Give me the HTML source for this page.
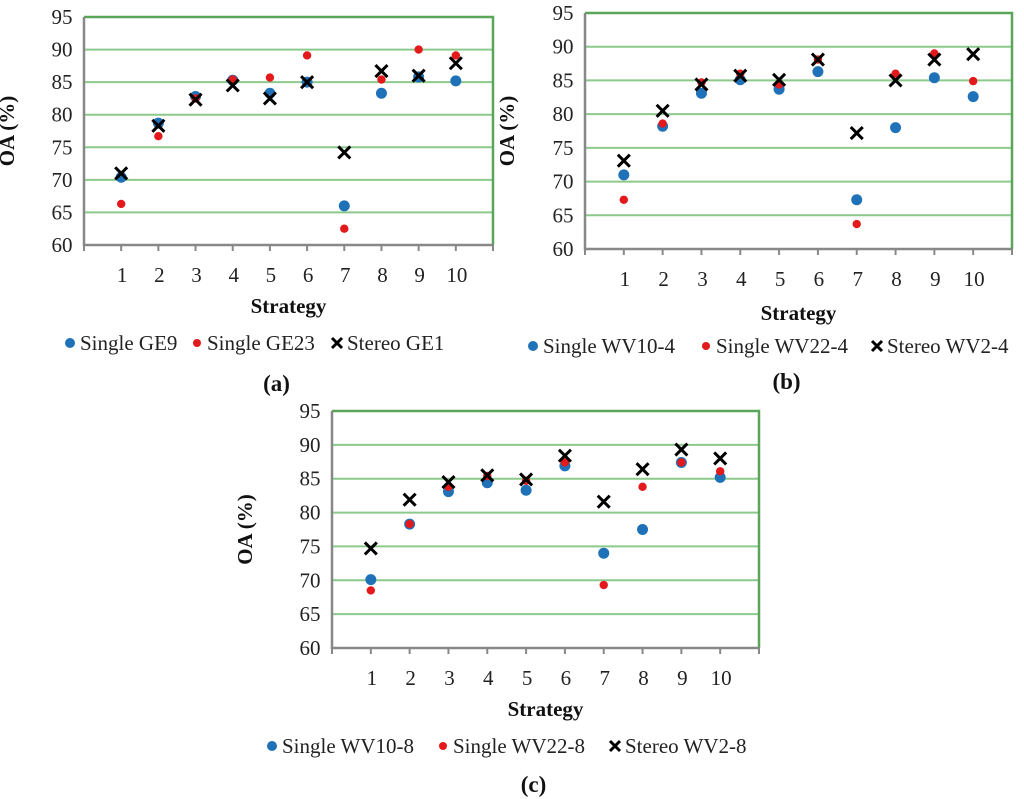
<!DOCTYPE html>
<html><head><meta charset="utf-8"><style>
body{margin:0;background:#fff;}
svg{display:block;font-family:"Liberation Serif",serif;}
</style></head><body>
<svg id="s" width="1024" height="799" viewBox="0 0 1024 799"></svg>
<script>
const categories=[1,2,3,4,5,6,7,8,9,10];
const yTicks=[60,65,70,75,80,85,90,95];
const aBlue=[70.4,78.7,82.8,85.3,83.3,85.0,66.0,83.3,85.8,85.2];
const aRed=[66.3,76.7,82.5,85.4,85.7,89.1,62.5,85.4,90.0,89.1];
const aCross=[71.0,78.3,82.3,84.5,82.5,85.0,74.2,86.7,86.0,87.9];
const bBlue=[71.0,78.2,83.1,85.1,83.7,86.3,67.3,78.0,85.4,82.6];
const bRed=[67.3,78.6,84.7,86.0,84.4,88.1,63.7,86.0,89.0,84.9];
const bCross=[73.1,80.5,84.4,85.7,85.1,88.1,77.2,85.0,88.1,88.9];
const cBlue=[70.1,78.3,83.1,84.4,83.3,86.9,74.0,77.5,87.4,85.2];
const cRed=[68.5,78.3,83.8,85.4,84.7,87.4,69.3,83.8,87.4,86.1];
const cCross=[74.7,81.9,84.5,85.5,84.9,88.4,81.6,86.4,89.3,88.0];
const aLegend=["Single GE9","Single GE23","Stereo GE1"];
const bLegend=["Single WV10-4","Single WV22-4","Stereo WV2-4"];
const cLegend=["Single WV10-8","Single WV22-8","Stereo WV2-8"];

const NS="http://www.w3.org/2000/svg";
const svg=document.getElementById('s');
function mk(tag,attrs,parent,text){const e=document.createElementNS(NS,tag);for(const k in attrs)e.setAttribute(k,attrs[k]);if(text!==undefined)e.textContent=text;parent.appendChild(e);return e;}

function chart(id,L,R,T,B,blue,red,cross,leg,lx,ly,titleX,xlabY,stratY,tag,tagY){
  const g=mk('g',{},svg);
  
  
  const x=v=>L+(R-L)*v/11;
  const y=v=>B-(B-T)*(v-60)/35;
  yTicks.forEach(t=>{
    if(t>60&&t<95){const l=mk('line',{x1:L,x2:R,y1:y(t),y2:y(t),stroke:'#8cc98c','stroke-width':2},g);
    }
    const tx=mk('text',{x:L-22,y:y(t)+7,'text-anchor':'middle','font-size':21,fill:'#222'},g,t);
    
  });
  const tb=mk('path',{d:`M${L} ${T}H${R}V${B}`,fill:'none',stroke:'#5aa55a','stroke-width':2.5},g);
  
  const ax=mk('path',{d:`M${L} ${T}V${B}H${R}`,fill:'none',stroke:'#888','stroke-width':2.5},g);
  
  for(let i=0;i<=11;i++){const tk=mk('line',{x1:x(i),x2:x(i),y1:B,y2:B+6,stroke:'#888','stroke-width':2},g);
    }
  categories.forEach(c=>{const t=mk('text',{x:x(c)+1,y:xlabY,'text-anchor':'middle','font-size':21,fill:'#222'},g,c);
    });
  const st=mk('text',{x:(L+R)/2,y:stratY,'text-anchor':'middle','font-size':21,'font-weight':'bold',fill:'#111'},g,'Strategy');
  
  const yt=mk('text',{x:0,y:0,'text-anchor':'middle','font-size':21,'font-weight':'bold',fill:'#111',transform:`translate(${titleX},${(T+B)/2}) rotate(-90)`},g,'OA (%)');
  
  categories.forEach((c,i)=>{
    const b=mk('circle',{cx:x(c),cy:y(blue[i]),r:5.5,fill:'#1f72b8'},g);
    
    const r=mk('circle',{cx:x(c),cy:y(red[i]),r:4.2,fill:'#e3191b'},g);
    
    const cx=x(c),cy=y(cross[i]),d=6;
    const k=mk('path',{d:`M${cx-d} ${cy-d}L${cx+d} ${cy+d}M${cx+d} ${cy-d}L${cx-d} ${cy+d}`,stroke:'#000','stroke-width':3},g);
    
  });
  const lb=mk('circle',{cx:lx[0],cy:ly-7,r:5,fill:'#1f72b8'},g);
  
  const lr=mk('circle',{cx:lx[1],cy:ly-7,r:4,fill:'#e3191b'},g);
  
  const lk=mk('path',{d:`M${lx[2]-5} ${ly-12}L${lx[2]+5} ${ly-2}M${lx[2]+5} ${ly-12}L${lx[2]-5} ${ly-2}`,stroke:'#000','stroke-width':3},g);
  
  leg.forEach((s,i)=>{const t=mk('text',{x:lx[i]+10,y:ly,'font-size':21,fill:'#222'},g,s);
    });
  const tg=mk('text',{x:(L+R)/2-12,y:tagY,'text-anchor':'middle','font-size':23,'font-weight':'bold',fill:'#111'},g,tag);
  
}
chart('a',84,493,17,245,aBlue,aRed,aCross,aLegend,[70,197,337],350,14,282,313,'(a)',391);
chart('b',585,1012,13,249,bBlue,bRed,bCross,bLegend,[533,706,877],353,514,286,320,'(b)',389);
chart('c',332,759,411,648,cBlue,cRed,cCross,cLegend,[272,443,615],753,252,685,716,'(c)',792);
</script>
</body></html>
